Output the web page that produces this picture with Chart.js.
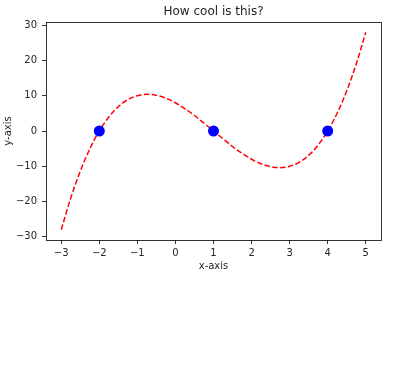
<!DOCTYPE html>
<html>
<head>
<meta charset="utf-8">
<script src="https://cdn.jsdelivr.net/npm/chart.js@4"></script>
<style>
html,body{margin:0;padding:0;background:#fff;}
#wrap{width:400px;height:382px;position:relative;}
</style>
</head>
<body>
<div id="wrap"><canvas id="c" width="400" height="382"></canvas></div>
<script>
// Curve samples
const curveX = [-3,-2.75,-2.5,-2.25,-2,-1.75,-1.5,-1.25,-1,-0.75,-0.5,-0.25,0,0.25,0.5,0.75,1,1.25,1.5,1.75,2,2.25,2.5,2.75,3,3.25,3.5,3.75,4,4.25,4.5,4.75,5];
const curveY = [-28,-19,-11.4,-5.1,0,3.95,6.9,8.9,10,10.4,10.1,9.3,8,6.3,4.4,2.2,0,-2.2,-4.4,-6.3,-8,-9.3,-10.1,-10.4,-10,-8.9,-6.9,-3.95,0,5.1,11.4,19,28];
// Blue markers (roots)
const rootX = [-2, 1, 4];
const rootY = [0, 0, 0];
// Axis ticks
const xTicks = [-3,-2,-1,0,1,2,3,4,5];
const yTicks = [-30,-20,-10,0,10,20,30];

const FONT = "'DejaVu Sans', sans-serif";
const TXT = '#262626';

const framePlugin = {
  id: 'frame',
  afterDraw(chart) {
    const {ctx, chartArea: a} = chart;
    ctx.save();
    ctx.strokeStyle = '#000';
    ctx.lineWidth = 0.8;
    ctx.strokeRect(Math.round(a.left) + 0.5, Math.round(a.top) + 0.5,
                   Math.round(a.right - a.left), Math.round(a.bottom - a.top));
    ctx.restore();
  }
};

const fmt = v => String(v).replace('-', '\u2212');

new Chart(document.getElementById('c'), {
  type: 'scatter',
  data: {
    datasets: [
      {
        data: rootX.map((x, i) => ({x, y: rootY[i]})),
        showLine: false,
        pointRadius: 5.5,
        pointHoverRadius: 5.5,
        pointBackgroundColor: '#0000ff',
        pointBorderColor: '#0000ff',
        pointBorderWidth: 0,
        order: 0
      },
      {
        data: curveX.map((x, i) => ({x, y: curveY[i]})),
        showLine: true,
        borderColor: '#ff0000',
        borderWidth: 1.5,
        borderDash: [5.5, 2.4],
        pointRadius: 0,
        pointHoverRadius: 0,
        cubicInterpolationMode: 'monotone',
        fill: false,
        order: 1
      }
    ]
  },
  options: {
    responsive: false,
    animation: false,
    events: [],
    layout: { padding: { left: 0, right: 19, top: 0, bottom: 110 } },
    plugins: {
      legend: { display: false },
      tooltip: { enabled: false },
      title: {
        display: true,
        fullSize: false,
        text: 'How cool is this?',
        color: TXT,
        font: { family: FONT, size: 12, weight: 'normal', lineHeight: 1.2 },
        padding: { top: 5, bottom: 2.6 }
      }
    },
    scales: {
      x: {
        type: 'linear',
        min: -3.4,
        max: 5.4,
        afterBuildTicks: s => { s.ticks = xTicks.map(v => ({value: v})); },
        afterFit: s => { s.height = 32; },
        border: { display: false },
        grid: { drawOnChartArea: false, drawTicks: true, tickLength: 4, color: '#000', lineWidth: 0.8 },
        ticks: { color: TXT, font: { family: FONT, size: 10 }, padding: 3, maxRotation: 0, callback: fmt },
        title: { display: true, text: 'x-axis', color: TXT, font: { family: FONT, size: 10, lineHeight: 1.2 }, padding: { top: 0, bottom: 0 } }
      },
      y: {
        type: 'linear',
        min: -30.9,
        max: 30.9,
        afterBuildTicks: s => { s.ticks = yTicks.map(v => ({value: v})); },
        afterFit: s => { s.width = 46; },
        border: { display: false },
        grid: { drawOnChartArea: false, drawTicks: true, tickLength: 4, color: '#000', lineWidth: 0.8 },
        ticks: { color: TXT, font: { family: FONT, size: 10 }, padding: 5, callback: fmt },
        title: { display: true, text: 'y-axis', color: TXT, font: { family: FONT, size: 10, lineHeight: 1.2 }, padding: { top: 2, bottom: 0 } }
      }
    }
  },
  plugins: [framePlugin]
});
</script>
</body>
</html>
